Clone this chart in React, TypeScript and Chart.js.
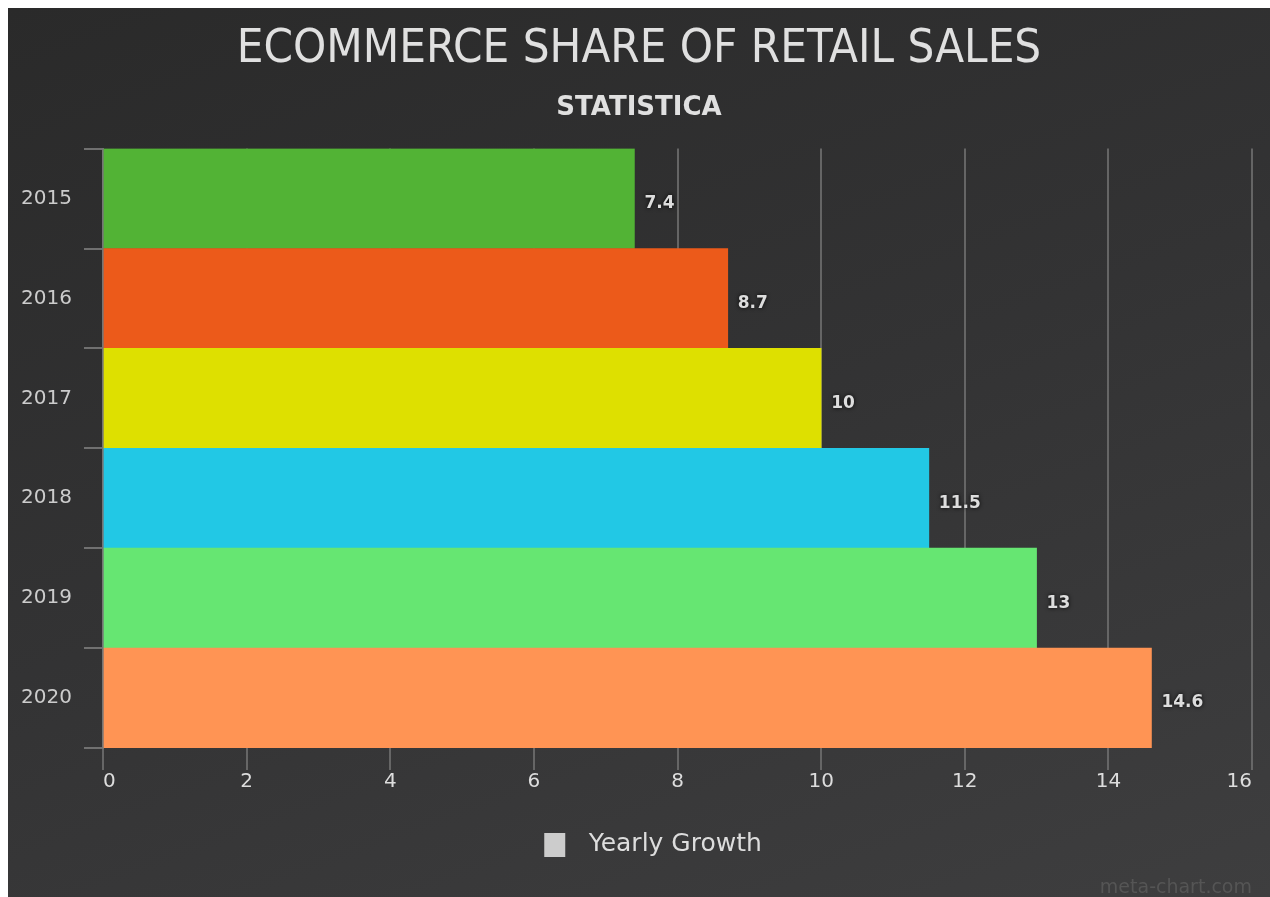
import React, { useEffect, useRef } from "react";
import { Chart, registerables } from "chart.js";

Chart.register(...registerables);

const categories = ["2015", "2016", "2017", "2018", "2019", "2020"];
const values = [7.4, 8.7, 10, 11.5, 13, 14.6];
const barColors = ["#52b335", "#ec5a1a", "#dee000", "#22c8e5", "#66e672", "#ff9454"];
const seriesLabel = "Yearly Growth";
const titleText = "ECOMMERCE SHARE OF RETAIL SALES";
const subtitleText = "STATISTICA";
const watermark = "meta-chart.com";

const W = 1262;
const H = 889;

const valueLabels = {
  id: "valueLabels",
  afterDatasetsDraw(chart: any) {
    const ctx = chart.ctx;
    const meta = chart.getDatasetMeta(0);
    ctx.save();
    ctx.font = "bold 17px 'DejaVu Sans'";
    ctx.fillStyle = "#dddddd";
    ctx.textAlign = "left";
    ctx.textBaseline = "middle";
    ctx.shadowColor = "rgba(0,0,0,0.9)";
    ctx.shadowBlur = 4;
    meta.data.forEach((bar: any, i: number) => {
      ctx.fillText(String(values[i]), bar.x + 10, bar.y + 5);
    });
    ctx.restore();
  },
  afterDraw(chart: any) {
    const ctx = chart.ctx;
    ctx.save();
    ctx.font = "19px 'DejaVu Sans'";
    ctx.fillStyle = "#555555";
    ctx.textAlign = "right";
    ctx.textBaseline = "alphabetic";
    ctx.fillText(watermark, chart.chartArea.right, chart.height - 4);
    ctx.restore();
  },
};

export default function App() {
  const ref = useRef<HTMLCanvasElement>(null);
  useEffect(() => {
    document.documentElement.style.overflow = "hidden";
    const swatch = document.createElement("canvas");
    swatch.width = 60;
    swatch.height = 24;
    const sctx = swatch.getContext("2d")!;
    sctx.fillStyle = "#cccccc";
    sctx.fillRect(28, 0, 21, 24);
    const chart = new Chart(ref.current!, {
      type: "bar",
      data: {
        labels: categories,
        datasets: [
          {
            label: seriesLabel,
            data: values,
            backgroundColor: barColors,
            borderWidth: 0,
            barPercentage: 1,
            categoryPercentage: 1,
          },
        ],
      },
      plugins: [valueLabels],
      options: {
        indexAxis: "y",
        responsive: false,
        animation: false,
        devicePixelRatio: 1,
        layout: { padding: { left: 0, right: 0, top: 0, bottom: 30 } },
        plugins: {
          tooltip: { enabled: false },
          title: {
            display: true,
            text: titleText,
            color: "#e0e0e0",
            font: { family: "'DejaVu Sans Condensed', 'DejaVu Sans'", size: 47, weight: "normal", lineHeight: 1.2 },
            padding: { top: 14, bottom: 14 },
          },
          subtitle: {
            display: true,
            text: subtitleText,
            color: "#e0e0e0",
            font: { family: "'DejaVu Sans'", size: 26, weight: "bold", lineHeight: 1.2 },
            padding: { top: 0, bottom: 25 },
          },
          legend: {
            display: true,
            position: "bottom",
            labels: {
              color: "#dddddd",
              font: { family: "'DejaVu Sans'", size: 25 },
              usePointStyle: true,
              pointStyleWidth: 60,
              boxHeight: 24,
              padding: 10,
              generateLabels: () => [
                {
                  text: seriesLabel,
                  fillStyle: "#cccccc",
                  strokeStyle: "#cccccc",
                  lineWidth: 0,
                  hidden: false,
                  datasetIndex: 0,
                  fontColor: "#dddddd",
                  pointStyle: swatch,
                } as any,
              ],
            },
          },
        },
        scales: {
          x: {
            min: 0,
            max: 16,
            ticks: {
              stepSize: 2,
              color: "#dddddd",
              font: { family: "'DejaVu Sans'", size: 20 },
              padding: 0,
              align: "inner",
            },
            grid: {
              color: "rgba(110,110,110,0.85)",
              lineWidth: 2,
              tickLength: 22,
              drawOnChartArea: true,
            },
            border: { display: false },
            afterFit: (s: any) => {
              s.height = 74;
              s.paddingRight = 18;
            },
          },
          y: {
            ticks: {
              color: "#cccccc",
              font: { family: "'DejaVu Sans'", size: 20 },
              padding: 12,
            },
            grid: {
              offset: true,
              drawOnChartArea: false,
              color: "rgba(120,120,120,0.9)",
              lineWidth: 2,
              tickLength: 19,
            },
            border: { display: true, color: "rgba(120,120,120,0.9)", width: 2 },
            afterFit: (s: any) => {
              s.width = 95;
            },
          },
        },
      } as any,
    });
    return () => chart.destroy();
  }, []);
  return (
    <div
      style={{
        position: "fixed",
        left: 8,
        top: 8,
        width: W,
        height: H,
        background: "linear-gradient(160deg, #2a2a2a 0%, #333334 50%, #3e3e3f 100%)",
      }}
    >
      <canvas ref={ref} width={W} height={H} style={{ width: W, height: H, display: "block" }} />
    </div>
  );
}
